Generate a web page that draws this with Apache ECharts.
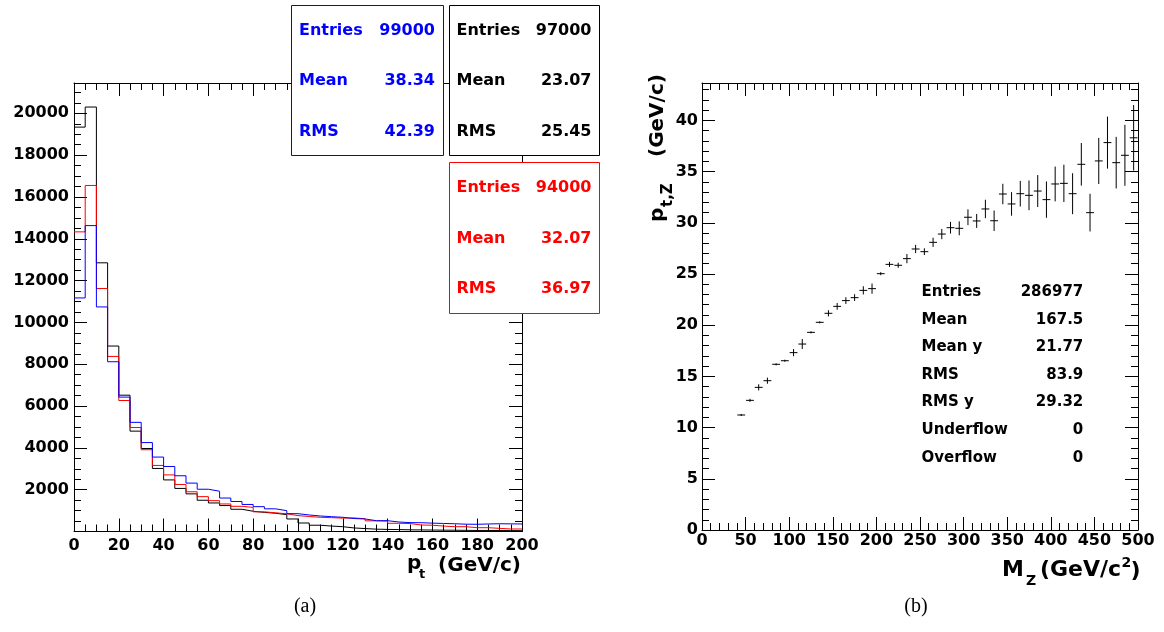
<!DOCTYPE html>
<html>
<head>
<meta charset="utf-8">
<title>pt / MZ</title>
<script src="https://cdn.jsdelivr.net/npm/echarts@6/dist/echarts.min.js"></script>
<style>
html, body { margin: 0; padding: 0; background: #fff; }
#main { width: 1164px; height: 632px; }
</style>
</head>
<body>
<div id="main"></div>
<script>
// (a) pt 直方图, 40 bins of 5 GeV/c
const binWidth = 5;
const histBlack = [19340, 20300, 12850, 8870, 6520, 4800, 3970, 3015, 2467, 2060,
                   1800, 1494, 1365, 1240, 1063, 968, 915, 872, 805, 599,
                   407, 300, 260, 230, 170, 140, 112, 100, 92, 80,
                   76, 70, 64, 60, 55, 50, 50, 45, 42, 40];
const histRed   = [14330, 16550, 11620, 8373, 6265, 4972, 3910, 3160, 2706, 2250,
                   1900, 1667, 1475, 1317, 1205, 1155, 940, 895, 845, 760,
                   718, 680, 661, 640, 650, 610, 510, 500, 393, 380,
                   311, 300, 260, 230, 230, 182, 182, 150, 120, 120];
const histBlue  = [11170, 14630, 10740, 8119, 6428, 5220, 4253, 3560, 3110, 2665,
                   2315, 2021, 1926, 1600, 1436, 1293, 1188, 1085, 996, 853,
                   790, 742, 709, 680, 620, 599, 517, 517, 455, 425,
                   420, 400, 385, 370, 350, 345, 360, 370, 365, 360];
const statsBlue  = [['Entries', '99000'], ['Mean', '38.34'], ['RMS', '42.39']];
const statsBlack = [['Entries', '97000'], ['Mean', '23.07'], ['RMS', '25.45']];
const statsRed   = [['Entries', '94000'], ['Mean', '32.07'], ['RMS', '36.97']];

// (b) pt,Z 对 MZ 的 profile, bins of 10 GeV/c^2
const profBinWidth = 10;
const profX = [45, 55, 65, 75, 85, 95, 105, 115, 125, 135,
               145, 155, 165, 175, 185, 195, 205, 215, 225, 235,
               245, 255, 265, 275, 285, 295, 305, 315, 325, 335,
               345, 355, 365, 375, 385, 395, 405, 415, 425, 435,
               445, 455, 465, 475, 485, 495];
const profY = [11.23, 12.66, 13.93, 14.58, 16.18, 16.53, 17.32, 18.16, 19.30, 20.28,
               21.16, 21.84, 22.40, 22.69, 23.40, 23.57, 25.03, 25.94, 25.85, 26.50,
               27.44, 27.18, 28.09, 28.90, 29.52, 29.46, 30.54, 30.18, 31.35, 30.20,
               32.81, 31.84, 32.84, 32.68, 33.10, 32.26, 33.79, 33.85, 32.84, 35.71,
               30.99, 36.04, 37.83, 35.87, 36.59, 38.30];
const profErr = [0.10, 0.15, 0.30, 0.30, 0.10, 0.10, 0.35, 0.49, 0.10, 0.10,
                 0.30, 0.33, 0.33, 0.33, 0.40, 0.50, 0.15, 0.25, 0.25, 0.45,
                 0.40, 0.33, 0.45, 0.50, 0.57, 0.68, 0.77, 0.68, 0.90, 1.00,
                 1.00, 1.15, 1.25, 1.45, 1.56, 1.77, 1.70, 1.82, 2.00, 2.08,
                 1.84, 2.25, 2.54, 2.52, 2.98, 3.20];
const statsProf = [['Entries', '286977'], ['Mean', '167.5'], ['Mean y', '21.77'],
                   ['RMS', '83.9'], ['RMS y', '29.32'], ['Underflow', '0'], ['Overflow', '0']];

const FONT = 'DejaVu Sans';

function histData(vals) {
  const d = vals.map((v, i) => [i * binWidth, v]);
  d.push([vals.length * binWidth, vals[vals.length - 1]]);
  return d;
}

// 坐标轴样式 (ROOT 风格: 刻度朝内, 四边都有)
function axis(opt, labels) {
  return Object.assign({
    type: 'value',
    axisLine: { show: true, onZero: false, lineStyle: { color: '#000', width: 1 } },
    axisTick: { show: true, inside: true, length: 13, lineStyle: { color: '#000', width: 1 } },
    minorTick: { show: true, length: 7, lineStyle: { color: '#000', width: 1 } },
    splitLine: { show: false },
    axisLabel: labels ? Object.assign({
      color: '#000', fontFamily: FONT, fontWeight: 'bold', fontSize: 16
    }, labels) : { show: false }
  }, opt);
}

function text(x, y, str, size, color, align, extra) {
  return Object.assign({
    type: 'text', x: x, y: y, z: 110,
    style: {
      text: str, fill: color || '#000', align: align || 'left', verticalAlign: 'middle',
      font: 'bold ' + size + 'px "' + FONT + '"'
    }
  }, extra || {});
}

function statBox(x, y, w, h, color, rows, rowY, labelX, valueX, size, border) {
  const els = [];
  if (border) {
    els.push({
      type: 'rect', z: 100,
      shape: { x: x, y: y, width: w, height: h },
      style: { fill: '#fff', stroke: color, lineWidth: 1 }
    });
  }
  rows.forEach((r, i) => {
    els.push(text(labelX, rowY[i], r[0], size, color, 'left'));
    els.push(text(valueX, rowY[i], r[1], size, color, 'right'));
  });
  return els;
}

const graphics = [].concat(
  statBox(291.5, 5.5, 152, 150, '#0000ff', statsBlue, [31.3, 81.3, 132], 299, 435, 16, true),
  statBox(449.5, 5.5, 150, 150, '#000000', statsBlack, [31.3, 81.3, 132], 456.5, 591.5, 16, true),
  statBox(449.5, 162.5, 150, 151, '#ff0000', statsRed, [188.3, 238.7, 289.3], 456.5, 591.5, 16, true),
  statBox(0, 0, 0, 0, '#000', statsProf, [292.3, 320, 347.5, 375, 402.5, 430, 457.7], 921.5, 1083.3, 15, false),
  [
    // p_t (GeV/c)
    text(407, 564, 'p', 20),
    text(419, 575, 't', 13),
    text(521, 566, '(GeV/c)', 20, '#000', 'right'),
    // M_Z (GeV/c^2)
    text(1002, 570, 'M', 22),
    text(1026, 581, 'Z', 14),
    text(1040, 570, '(GeV/c', 22),
    text(1121.5, 563, '2', 14),
    text(1130.5, 571, ')', 22),
    // p_{t,Z} (GeV/c), 竖排
    {
      type: 'group', x: 658, y: 222, rotation: Math.PI / 2,
      children: [
        text(0, 0, 'p', 20),
        text(15, 10, 't,Z', 15),
        text(65, 0, '(GeV/c)', 20)
      ]
    },
    // captions
    { type: 'text', x: 305, y: 607, style: { text: '(a)', align: 'center', verticalAlign: 'middle',
      fill: '#000', font: '20px "Liberation Serif"' } },
    { type: 'text', x: 916, y: 607, style: { text: '(b)', align: 'center', verticalAlign: 'middle',
      fill: '#000', font: '20px "Liberation Serif"' } }
  ]
);

const chart = echarts.init(document.getElementById('main'), null, { renderer: 'canvas' });
chart.setOption({
  animation: false,
  backgroundColor: '#fff',
  grid: [
    { left: 74, right: 642, top: 83, bottom: 100.5 },
    { left: 702, right: 26, top: 83, bottom: 102 }
  ],
  xAxis: [
    axis({ gridIndex: 0, min: 0, max: 200, interval: 20, position: 'bottom',
           minorTick: { show: true, splitNumber: 4, length: 7, lineStyle: { color: '#000' } } },
         { margin: 6 }),
    axis({ gridIndex: 0, min: 0, max: 200, interval: 20, position: 'top',
           minorTick: { show: true, splitNumber: 4, length: 7, lineStyle: { color: '#000' } } }),
    axis({ gridIndex: 1, min: 0, max: 500, interval: 50, position: 'bottom',
           minorTick: { show: true, splitNumber: 5, length: 7, lineStyle: { color: '#000' } } },
         { margin: 3 }),
    axis({ gridIndex: 1, min: 0, max: 500, interval: 50, position: 'top',
           minorTick: { show: true, splitNumber: 5, length: 7, lineStyle: { color: '#000' } } })
  ],
  yAxis: [
    axis({ gridIndex: 0, min: 0, max: 21450, interval: 2000, position: 'left',
           minorTick: { show: true, splitNumber: 4, length: 7, lineStyle: { color: '#000' } } },
         { margin: 5, formatter: v => (v > 0 && v % 2000 === 0 ? String(v) : '') }),
    axis({ gridIndex: 0, min: 0, max: 21450, interval: 2000, position: 'right',
           minorTick: { show: true, splitNumber: 4, length: 7, lineStyle: { color: '#000' } } }),
    axis({ gridIndex: 1, min: 0, max: 43.65, interval: 5, position: 'left',
           minorTick: { show: true, splitNumber: 5, length: 7, lineStyle: { color: '#000' } } },
         { margin: 4, formatter: v => (v % 5 === 0 ? String(v) : '') }),
    axis({ gridIndex: 1, min: 0, max: 43.65, interval: 5, position: 'right',
           minorTick: { show: true, splitNumber: 5, length: 7, lineStyle: { color: '#000' } } })
  ],
  series: [
    { name: 'black', type: 'line', step: 'end', xAxisIndex: 0, yAxisIndex: 0, data: histData(histBlack),
      showSymbol: false, symbol: 'none', lineStyle: { color: '#000', width: 1 }, z: 2 },
    { name: 'red', type: 'line', step: 'end', xAxisIndex: 0, yAxisIndex: 0, data: histData(histRed),
      showSymbol: false, symbol: 'none', lineStyle: { color: '#ff0000', width: 1 }, z: 3 },
    { name: 'blue', type: 'line', step: 'end', xAxisIndex: 0, yAxisIndex: 0, data: histData(histBlue),
      showSymbol: false, symbol: 'none', lineStyle: { color: '#0000ff', width: 1 }, z: 4 },
    {
      name: 'profile', type: 'custom', xAxisIndex: 2, yAxisIndex: 2,
      data: profX.map((x, i) => [x, profY[i], profErr[i]]),
      renderItem: function (params, api) {
        const x = api.value(0), y = api.value(1), e = api.value(2);
        const c = api.coord([x, y]);
        const hi = api.coord([x, y + e]);
        const lo = api.coord([x, y - e]);
        const hw = api.size([profBinWidth, 0])[0] * 0.45;
        const st = { stroke: '#000', lineWidth: 1 };
        return {
          type: 'group',
          children: [
            { type: 'line', shape: { x1: c[0] - hw, y1: c[1], x2: c[0] + hw, y2: c[1] }, style: st },
            { type: 'line', shape: { x1: c[0], y1: hi[1], x2: c[0], y2: lo[1] }, style: st }
          ]
        };
      }
    }
  ],
  graphic: graphics
});
</script>
</body>
</html>
